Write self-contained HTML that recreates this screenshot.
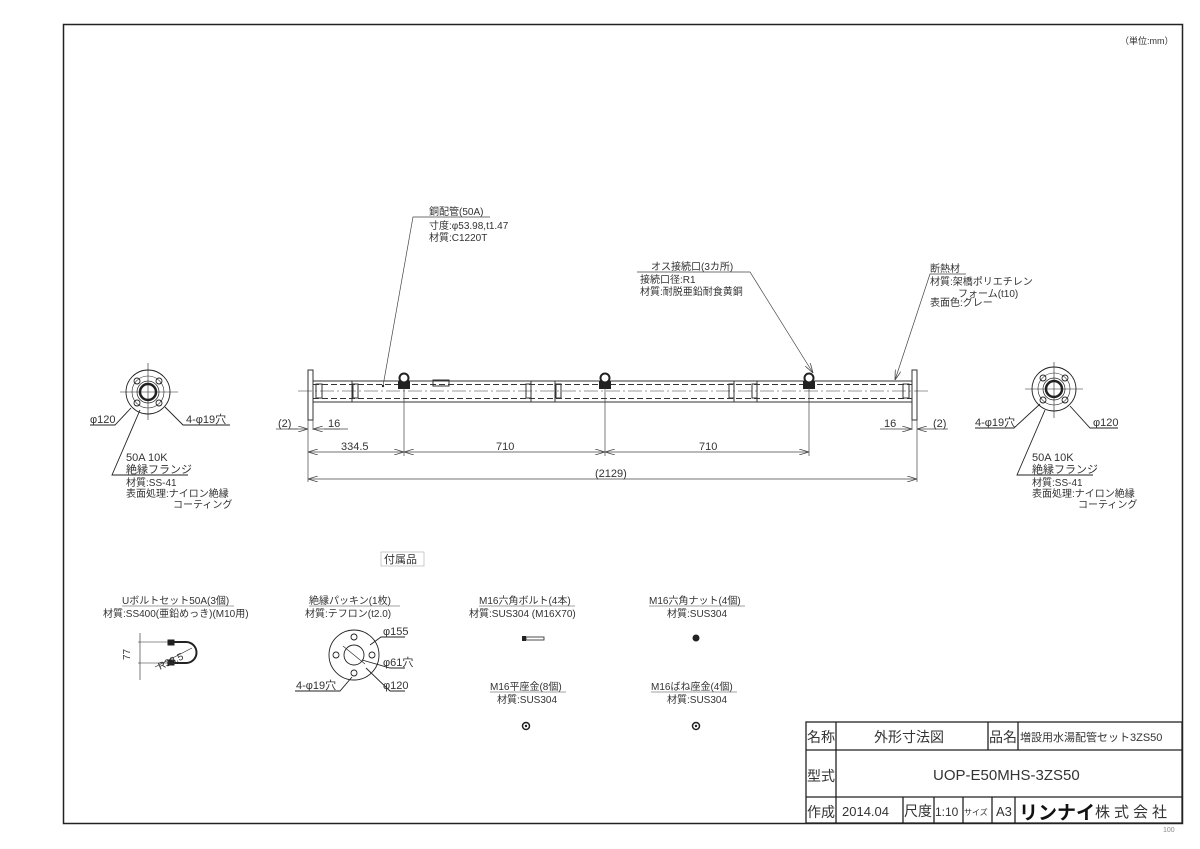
<!DOCTYPE html>
<html><head><meta charset="utf-8"><style>
html,body{margin:0;padding:0;background:#fff}
svg{display:block}
text{font-family:"Liberation Sans","Noto Sans CJK JP",sans-serif;fill:#333}
</style></head><body>
<svg width="1200" height="849" viewBox="0 0 1200 849" xmlns="http://www.w3.org/2000/svg" font-size="10">
<defs>
<marker id="a" viewBox="0 0 10 6" refX="10" refY="3" markerWidth="10" markerHeight="6" orient="auto-start-reverse" markerUnits="userSpaceOnUse"><path d="M0,0L10,3L0,6" fill="none" stroke="#444" stroke-width="0.8"/></marker>
</defs>
<g stroke="#222" fill="none" stroke-width="1">
<rect x="63.5" y="24.5" width="1119" height="799" stroke-width="1.5"/>
</g>
<text x="1120" y="44" font-size="9">（単位:mm）</text>

<!-- main pipe -->
<g stroke="#333" fill="none" stroke-width="1">
<rect x="308" y="370" width="5" height="50"/>
<rect x="912" y="370" width="5" height="50"/>
<line x1="313" y1="381" x2="912" y2="381"/>
<line x1="313" y1="402" x2="912" y2="402"/>
<line x1="313" y1="384.5" x2="912" y2="384.5" stroke-dasharray="6,3"/>
<line x1="313" y1="398.5" x2="912" y2="398.5" stroke-dasharray="6,3"/>
<line x1="298" y1="391" x2="928" y2="391" stroke-dasharray="14,3,2,3" stroke-width="0.6"/>
<rect x="316" y="384" width="6" height="14"/><rect x="903" y="384" width="6" height="14"/>
<line x1="352" y1="381" x2="352" y2="402"/><rect x="353" y="384" width="5" height="14"/>
<line x1="531" y1="381" x2="531" y2="402"/><rect x="526" y="384" width="5" height="14"/>
<line x1="555" y1="381" x2="555" y2="402"/><rect x="556" y="384" width="5" height="14"/>
<line x1="734" y1="381" x2="734" y2="402"/><rect x="729" y="384" width="5" height="14"/>
<line x1="757" y1="381" x2="757" y2="402"/><rect x="752" y="384" width="5" height="14"/>
<rect x="433" y="380" width="16" height="6"/>
</g>
<g stroke="#222" stroke-width="2" fill="#fff">
<rect x="399" y="382" width="10" height="6" fill="#222"/><circle cx="404" cy="378" r="4.5"/>
<rect x="600" y="382" width="10" height="6" fill="#222"/><circle cx="605" cy="378" r="4.5"/>
<rect x="804" y="382" width="10" height="6" fill="#222"/><circle cx="809" cy="378" r="4.5"/>
</g>
<!-- dimensions -->
<g stroke="#444" stroke-width="0.7" fill="none">
<line x1="308" y1="420" x2="308" y2="482"/><line x1="313" y1="420" x2="313" y2="430"/>
<line x1="912" y1="420" x2="912" y2="430"/><line x1="917" y1="420" x2="917" y2="482"/>
<line x1="404" y1="388" x2="404" y2="456"/><line x1="605" y1="388" x2="605" y2="456"/><line x1="809" y1="388" x2="809" y2="456"/>
<line x1="276" y1="429" x2="298" y2="429"/><line x1="290" y1="429" x2="308" y2="429" marker-end="url(#a)"/>
<line x1="340" y1="429" x2="313" y2="429" marker-end="url(#a)"/><line x1="324" y1="429" x2="348" y2="429"/>
<line x1="880" y1="429" x2="912" y2="429" marker-end="url(#a)"/>
<line x1="948" y1="429" x2="917" y2="429" marker-end="url(#a)"/>
<line x1="308" y1="452" x2="404" y2="452" marker-start="url(#a)" marker-end="url(#a)"/>
<line x1="404" y1="452" x2="605" y2="452" marker-start="url(#a)" marker-end="url(#a)"/>
<line x1="605" y1="452" x2="809" y2="452" marker-start="url(#a)" marker-end="url(#a)"/>
<line x1="308" y1="479" x2="917" y2="479" marker-start="url(#a)" marker-end="url(#a)"/>
</g>
<text x="278" y="427" font-size="11">(2)</text><text x="328" y="427" font-size="11">16</text>
<text x="884" y="427" font-size="11">16</text><text x="933" y="427" font-size="11">(2)</text>
<text x="341" y="450" font-size="11">334.5</text><text x="496" y="450" font-size="11">710</text><text x="699" y="450" font-size="11">710</text>
<text x="595" y="477" font-size="11">(2129)</text>

<!-- leaders top -->
<g stroke="#444" stroke-width="0.7" fill="none">
<polyline points="383,386 413,217 490,217"/>
<polyline points="813,373 750,272 637,272" marker-start="url(#a)"/>
<polyline points="895,380 930,274 966,274" marker-start="url(#a)"/>
</g>
<circle cx="383" cy="386" r="1.2" fill="#222"/>
<text x="429" y="215">銅配管(50A)</text>
<text x="429" y="229">寸度:φ53.98,t1.47</text>
<text x="429" y="241">材質:C1220T</text>
<text x="651" y="270">オス接続口(3カ所)</text>
<text x="640" y="283">接続口径:R1</text>
<text x="640" y="295">材質:耐脱亜鉛耐食黄銅</text>
<text x="930" y="272">断熱材</text>
<text x="930" y="285">材質:架橋ポリエチレン</text>
<text x="958" y="297">フォーム(t10)</text>
<text x="930" y="306">表面色:グレー</text>

<!-- left flange -->
<g stroke="#222" fill="none" stroke-width="0.9">
<line x1="148" y1="363" x2="148" y2="420" stroke-width="0.6"/><line x1="120" y1="392" x2="178" y2="392" stroke-width="0.6"/>
<circle cx="148" cy="392" r="22"/><circle cx="148" cy="392" r="16" stroke-width="0.6"/>
<circle cx="148" cy="392" r="8" stroke-width="2.5"/><circle cx="148" cy="392" r="11" stroke-width="0.7"/>
<circle cx="137" cy="381" r="3"/><circle cx="159" cy="381" r="3"/><circle cx="137" cy="403" r="3"/><circle cx="159" cy="403" r="3"/>
<polyline points="90,425 115,425 131,408"/>
<polyline points="230,425 183,425 165,407"/>
<polyline points="188,475 112,475 140,410" />
</g>
<text x="90" y="423" font-size="11">φ120</text><text x="186" y="423" font-size="11">4-φ19穴</text>
<text x="126" y="461" font-size="11">50A 10K</text><text x="126" y="473" font-size="11">絶縁フランジ</text>
<text x="126" y="486">材質:SS-41</text><text x="126" y="497">表面処理:ナイロン絶縁</text><text x="173" y="508">コーティング</text>

<!-- right flange -->
<g stroke="#222" fill="none" stroke-width="0.9">
<line x1="1054" y1="362" x2="1054" y2="418" stroke-width="0.6"/><line x1="1025" y1="389" x2="1083" y2="389" stroke-width="0.6"/>
<circle cx="1054" cy="389" r="22"/><circle cx="1054" cy="389" r="16" stroke-width="0.6"/>
<circle cx="1054" cy="389" r="8" stroke-width="2.5"/><circle cx="1054" cy="389" r="11" stroke-width="0.7"/>
<circle cx="1043" cy="378" r="3"/><circle cx="1065" cy="378" r="3"/><circle cx="1043" cy="400" r="3"/><circle cx="1065" cy="400" r="3"/>
<polyline points="975,428 1014,428 1040,404"/>
<polyline points="1118,428 1090,428 1070,406"/>
<polyline points="1093,475 1017,475 1045,410"/>
</g>
<text x="975" y="426" font-size="11">4-φ19穴</text><text x="1093" y="426" font-size="11">φ120</text>
<text x="1032" y="461" font-size="11">50A 10K</text><text x="1032" y="473" font-size="11">絶縁フランジ</text>
<text x="1032" y="486">材質:SS-41</text><text x="1032" y="497">表面処理:ナイロン絶縁</text><text x="1078" y="508">コーティング</text>

<!-- accessories -->
<rect x="381" y="552" width="43" height="14" fill="none" stroke="#aaa" stroke-width="0.6"/>
<text x="384" y="563" font-size="11">付属品</text>
<text x="122" y="604">Uボルトセット50A(3個)</text>
<line x1="122" y1="606" x2="234" y2="606" stroke="#444" stroke-width="0.6"/>
<text x="103" y="617">材質:SS400(亜鉛めっき)(M10用)</text>
<g stroke="#222" fill="none" stroke-width="1">
<line x1="140" y1="633" x2="140" y2="680" stroke-width="0.6"/>
<line x1="138" y1="642" x2="170" y2="642" stroke-width="0.6"/><line x1="138" y1="663" x2="170" y2="663" stroke-width="0.6"/>
<path d="M170,642 H186 A10.5,10.5 0 0 1 186,663 H170" stroke-width="2"/>
<rect x="168" y="640" width="6" height="5" fill="#222"/><rect x="168" y="660" width="6" height="5" fill="#222"/>
<line x1="155" y1="667" x2="192" y2="648" stroke-width="0.6"/>
</g>
<text x="130" y="660" transform="rotate(-90 130 660)">77</text>
<text x="160" y="670" transform="rotate(-25 160 670)">R33.5</text>

<text x="309" y="604">絶縁パッキン(1枚)</text>
<line x1="309" y1="606" x2="400" y2="606" stroke="#444" stroke-width="0.6"/>
<text x="305" y="617">材質:テフロン(t2.0)</text>
<g stroke="#222" fill="none" stroke-width="0.9">
<circle cx="354" cy="655" r="25"/><circle cx="354" cy="655" r="10"/>
<circle cx="354" cy="637" r="3"/><circle cx="354" cy="673" r="3"/><circle cx="336" cy="655" r="3"/><circle cx="372" cy="655" r="3"/>
<polyline points="405,637 381,637 370,645"/>
<polyline points="405,668 390,668 362,660"/>
<polyline points="405,691 390,691 366,668"/>
<polyline points="295,691 340,691 352,677"/>
<line x1="343" y1="646" x2="365" y2="664" stroke-width="0.6"/>
</g>
<text x="383" y="635" font-size="11">φ155</text><text x="383" y="666" font-size="11">φ61穴</text><text x="383" y="689" font-size="11">φ120</text><text x="296" y="689" font-size="11">4-φ19穴</text>

<text x="479" y="604">M16六角ボルト(4本)</text>
<line x1="479" y1="606" x2="575" y2="606" stroke="#444" stroke-width="0.6"/>
<text x="469" y="617">材質:SUS304 (M16X70)</text>
<rect x="522" y="636" width="4" height="5" fill="#222"/><rect x="526" y="637" width="18" height="3" fill="none" stroke="#222" stroke-width="0.8"/>
<text x="649" y="604">M16六角ナット(4個)</text>
<line x1="649" y1="606" x2="745" y2="606" stroke="#444" stroke-width="0.6"/>
<text x="667" y="617">材質:SUS304</text>
<circle cx="696" cy="638" r="3.5" fill="#222"/>
<text x="490" y="690">M16平座金(8個)</text>
<line x1="490" y1="692" x2="566" y2="692" stroke="#444" stroke-width="0.6"/>
<text x="497" y="703">材質:SUS304</text>
<circle cx="526" cy="726" r="3.5" fill="none" stroke="#222" stroke-width="1.5"/><circle cx="526" cy="726" r="1.2" fill="#222"/>
<text x="651" y="690">M16ばね座金(4個)</text>
<line x1="651" y1="692" x2="737" y2="692" stroke="#444" stroke-width="0.6"/>
<text x="667" y="703">材質:SUS304</text>
<circle cx="696" cy="726" r="3.5" fill="none" stroke="#222" stroke-width="1.5"/><circle cx="696" cy="726" r="1.2" fill="#222"/>

<!-- title block -->
<g stroke="#222" fill="none" stroke-width="1.3">
<rect x="806" y="722" width="376" height="101"/>
<line x1="806" y1="750" x2="1182" y2="750"/><line x1="806" y1="797" x2="1182" y2="797"/>
<line x1="836" y1="722" x2="836" y2="823"/>
<line x1="988" y1="722" x2="988" y2="750"/><line x1="1018" y1="722" x2="1018" y2="750"/>
<line x1="903" y1="797" x2="903" y2="823"/><line x1="934" y1="797" x2="934" y2="823"/>
<line x1="963" y1="797" x2="963" y2="823"/><line x1="992" y1="797" x2="992" y2="823"/>
<line x1="1015" y1="797" x2="1015" y2="823"/>
</g>
<text x="807" y="742" font-size="14">名称</text>
<text x="874" y="742" font-size="14">外形寸法図</text>
<text x="989" y="742" font-size="14">品名</text>
<text x="1020" y="741" font-size="11">増設用水湯配管セット3ZS50</text>
<text x="807" y="781" font-size="14">型式</text>
<text x="933" y="780" font-size="15">UOP-E50MHS-3ZS50</text>
<text x="807" y="817" font-size="14">作成</text>
<text x="842" y="816" font-size="13">2014.04</text>
<text x="904" y="816" font-size="14">尺度</text>
<text x="935" y="816" font-size="12">1:10</text>
<text x="964" y="815" font-size="8">サイズ</text>
<text x="996" y="816" font-size="13">A3</text>
<text x="1019" y="819" font-size="19" font-weight="bold" style="fill:#111">リンナイ</text>
<text x="1095" y="817" font-size="15" letter-spacing="4">株式会社</text>
<text x="1163" y="832" font-size="7" style="fill:#888">100</text>
</svg>
</body></html>
